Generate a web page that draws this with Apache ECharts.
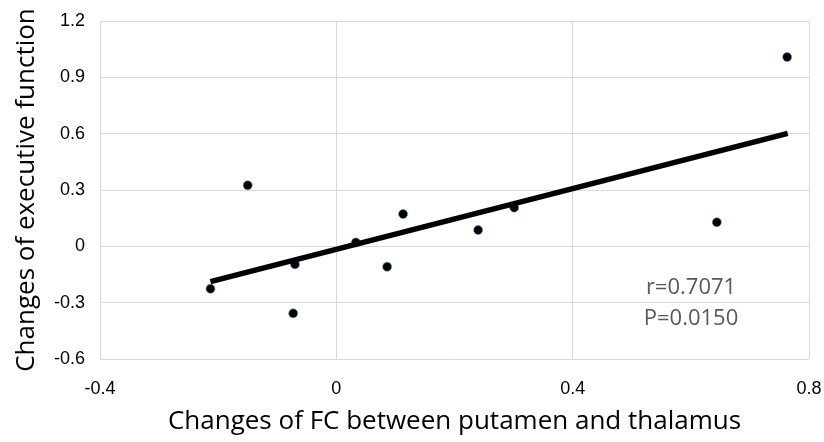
<!DOCTYPE html>
<html>
<head>
<meta charset="utf-8">
<script src="https://cdn.jsdelivr.net/npm/echarts@6/dist/echarts.min.js"></script>
<style>
  html, body { margin: 0; padding: 0; background: #fff; }
  #chart { width: 824px; height: 442px; }
</style>
</head>
<body>
<div id="chart"></div>
<script>
// data
var xValues = [-0.213, -0.150, -0.070, -0.073, 0.033, 0.086, 0.113, 0.240, 0.301, 0.644, 0.763];
var yValues = [-0.226, 0.325, -0.096, -0.357, 0.021, -0.109, 0.172, 0.087, 0.206, 0.128, 1.008];
var trendX = [-0.213, 0.764];
var trendY = [-0.188, 0.602];
var statLines = ['r=0.7071', 'P=0.0150'];

var points = [];
for (var i = 0; i < xValues.length; i++) {
	points.push([xValues[i], yValues[i]]);
}
var trend = [[trendX[0], trendY[0]], [trendX[1], trendY[1]]];

var chart = echarts.init(document.getElementById('chart'));
var gridColor = '#d9d9d9';

var option = {
	animation : false,
	grid : {
		left : 100,
		right : 15,
		top : 21,
		bottom : 83,
		outerBoundsMode : 'none'
	},
	xAxis : {
		type : 'value',
		min : -0.4,
		max : 0.8,
		interval : 0.4,
		name : 'Changes of FC between putamen and thalamus',
		nameLocation : 'middle',
		nameGap : 50,
		nameTextStyle : {
			fontFamily : 'Open Sans',
			fontSize : 26,
			color : '#000'
		},
		axisLine : { show : true, lineStyle : { color : gridColor } },
		axisTick : { show : false },
		splitLine : { show : true, lineStyle : { color : gridColor } },
		axisLabel : {
			fontFamily : 'Liberation Sans',
			fontSize : 18,
			color : '#000',
			margin : 21,
			formatter : function(v) { return String(Math.round(v * 10) / 10); }
		}
	},
	yAxis : {
		type : 'value',
		min : -0.6,
		max : 1.2,
		interval : 0.3,
		name : 'Changes of executive function',
		nameLocation : 'middle',
		nameGap : 60,
		nameTextStyle : {
			fontFamily : 'Open Sans',
			fontSize : 26,
			color : '#000'
		},
		axisLine : { show : true, lineStyle : { color : gridColor } },
		axisTick : { show : false },
		splitLine : { show : true, lineStyle : { color : gridColor } },
		axisLabel : {
			fontFamily : 'Liberation Sans',
			fontSize : 18,
			color : '#000',
			margin : 15,
			formatter : function(v) { return String(Math.round(v * 10) / 10); }
		}
	},
	graphic : [ {
		type : 'text',
		x : 691,
		y : 272,
		style : {
			text : statLines.join('\n'),
			fontFamily : 'Open Sans',
			fontSize : 22,
			lineHeight : 31,
			fill : '#595959',
			align : 'center',
			verticalAlign : 'top'
		}
	} ],
	series : [ {
		name : 'points',
		type : 'scatter',
		data : points,
		symbolSize : 9,
		itemStyle : {
			color : '#000',
			opacity : 1,
			borderColor : '#5b9bd5',
			borderWidth : 0.6
		},
		z : 3
	}, {
		name : 'trend',
		type : 'line',
		data : trend,
		symbol : 'none',
		lineStyle : { color : '#000', width : 5.5 },
		z : 4
	} ]
};
chart.setOption(option);
</script>
</body>
</html>
